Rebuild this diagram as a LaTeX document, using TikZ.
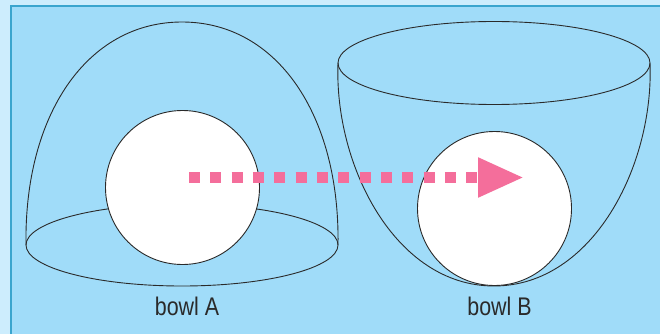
\documentclass[tikz,border=0pt]{standalone}
\usepackage{fontspec}
\usetikzlibrary{arrows.meta}
\newfontfamily\labelfont[FakeStretch=0.84]{Liberation Sans}
\definecolor{pageblue}{HTML}{CDEDFD}
\definecolor{panelblue}{HTML}{A0DCF9}
\definecolor{edgeblue}{HTML}{3AA5CE}
\definecolor{flowpink}{HTML}{F46E9B}
\definecolor{inkgrey}{HTML}{2A2A2A}
\tikzset{
  x=1pt,y=-1pt,
  outline/.style={draw=inkgrey,line width=0.9pt},
  ball/.style={outline,circle,fill=white,minimum size=154pt,inner sep=0pt},
  bowllabel/.style={text=inkgrey,font=\labelfont\fontsize{25.5}{28}\selectfont,inner sep=0pt},
  flow/.style={draw=flowpink,line width=11pt,dash pattern=on 11pt off 10.33pt,
    -{Triangle[length=46pt,width=37pt,fill=flowpink]}}
}
\begin{document}
\begin{tikzpicture}
\useasboundingbox (0,0) rectangle (660,334);
\clip (0,0) rectangle (660,334);
\fill[pageblue] (0,0) rectangle (660,334);
\draw[draw=edgeblue,fill=panelblue,line width=1.5pt] (11,6) rectangle (680,350);
% bowl A
\draw[outline] (182,245) ellipse [x radius=156,y radius=41];
\draw[outline] (26,245) .. controls (24,115) and (87,22) .. (182,22)
  .. controls (277,22) and (340,115) .. (338,245);
\node[ball] (ballA) at (182.5,187.5) {};
% bowl B
\draw[outline] (494,63) ellipse [x radius=156,y radius=41.5];
\draw[outline] (338,63) .. controls (334,165) and (395,286) .. (494,286)
  .. controls (593,286) and (654,165) .. (650,63);
\node[ball] (ballB) at (494.5,208.5) {};
% labels
\node[bowllabel] (labelA) at (187,306) {bowl A};
\node[bowllabel] (labelB) at (499.5,306) {bowl B};
% transfer arrow
\coordinate (flowstart) at (189,177.5);
\coordinate (flowend) at (524,177.5);
\draw[flow] (flowstart) -- (flowend);
\end{tikzpicture}
\end{document}
